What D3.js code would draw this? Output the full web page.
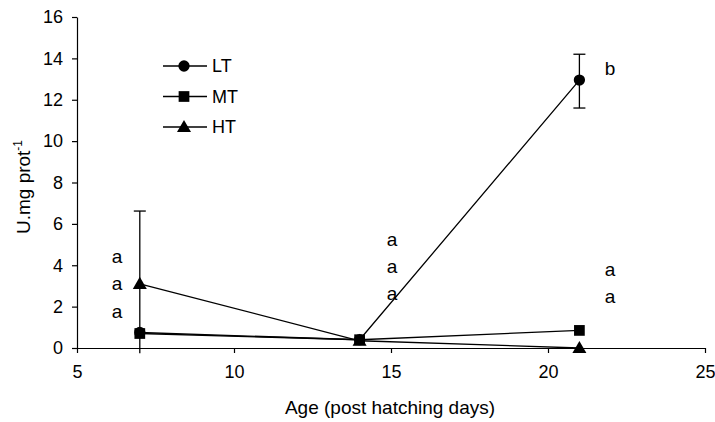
<!DOCTYPE html>
<html>
<head>
<meta charset="utf-8">
<script src="https://cdn.jsdelivr.net/npm/d3@7"></script>
<style>
  html, body { margin: 0; padding: 0; background: #fff; }
  svg text { font-family: "Liberation Sans", Arial, sans-serif; fill: #000; }
</style>
</head>
<body>
<svg id="chart" width="715" height="422"></svg>
<script>
// Enzyme activity (U.mg prot-1) by age for three temperature groups
const ages = [7, 14, 21];
const seriesNames = ["LT", "MT", "HT"];
const ltValues = [0.75, 0.4, 12.95];
const mtValues = [0.7, 0.4, 0.85];
const htValues = [3.1, 0.35, 0.0];
// error bars: [age, upper, lower]
const ltErrors = [[21, 14.2, 11.6]];
const htErrors = [[7, 6.62, -0.25]];
// significance letters per sampling age
const letters7 = ["a", "a", "a"];
const letters14 = ["a", "a", "a"];
const letters21 = ["b", "a", "a"];
const xTicks = [5, 10, 15, 20, 25];
const yTicks = [0, 2, 4, 6, 8, 10, 12, 14, 16];

const svg = d3.select("#chart");
const x = d3.scaleLinear().domain([5, 25]).range([77, 705]);
const y = d3.scaleLinear().domain([0, 16]).range([348, 17]);

// axes
const xAxis = d3.axisBottom(x).tickValues(xTicks).tickSize(5).tickPadding(12).tickSizeOuter(0);
const yAxis = d3.axisLeft(y).tickValues(yTicks).tickSize(5).tickPadding(9).tickSizeOuter(0);
const gx = svg.append("g").attr("transform", `translate(0,${y(0)})`).call(xAxis);
const gy = svg.append("g").attr("transform", `translate(${x(5)},0)`).call(yAxis);
[gx, gy].forEach(g => {
  g.attr("font-family", null).attr("font-size", null);
  g.selectAll("text").style("font-size", "18px");
  g.select(".domain").attr("stroke", "#000").attr("stroke-width", 1.2);
  g.selectAll(".tick line").attr("stroke", "#000").attr("stroke-width", 1.2);
});

// axis titles
svg.append("text").attr("x", 390).attr("y", 414).attr("text-anchor", "middle")
  .style("font-size", "19px").text("Age (post hatching days)");
const yl = svg.append("text").attr("transform", "translate(30,187) rotate(-90)")
  .attr("text-anchor", "middle").style("font-size", "19px");
yl.append("tspan").text("U.mg prot");
yl.append("tspan").attr("dy", "-8").style("font-size", "12px").text("-1");

const line = d3.line().x((d, i) => x(ages[i])).y(d => y(d));
const plot = svg.append("g");

// error bars
function errorBar(e, capBottom) {
  const [a, hi, lo] = e;
  plot.append("line").attr("x1", x(a)).attr("x2", x(a)).attr("y1", y(hi)).attr("y2", y(lo))
    .attr("stroke", "#000").attr("stroke-width", 1.3);
  plot.append("line").attr("x1", x(a) - 6).attr("x2", x(a) + 6).attr("y1", y(hi)).attr("y2", y(hi))
    .attr("stroke", "#000").attr("stroke-width", 1.3);
  if (capBottom) {
    plot.append("line").attr("x1", x(a) - 6).attr("x2", x(a) + 6).attr("y1", y(lo)).attr("y2", y(lo))
      .attr("stroke", "#000").attr("stroke-width", 1.3);
  }
}
ltErrors.forEach(e => errorBar(e, true));
htErrors.forEach(e => errorBar(e, false));

// lines
[htValues, mtValues, ltValues].forEach(vals => {
  plot.append("path").attr("d", line(vals)).attr("fill", "none")
    .attr("stroke", "#000").attr("stroke-width", 1.3);
});

const sym = {
  LT: d3.symbol().type(d3.symbolCircle).size(100),
  MT: d3.symbol().type(d3.symbolSquare).size(115),
  HT: d3.symbol().type(d3.symbolTriangle).size(85)
};
const seriesData = { LT: ltValues, MT: mtValues, HT: htValues };

// markers
["HT", "MT", "LT"].forEach(name => {
  plot.selectAll(null).data(seriesData[name]).enter().append("path")
    .attr("d", sym[name]())
    .attr("transform", (d, i) => `translate(${x(ages[i])},${y(d) + (name === "HT" ? 1 : 0)})`)
    .attr("fill", "#000");
});

// significance letters
const letterGroups = [
  { xPos: 117, ys: [4.42, 3.11, 1.76], labels: letters7 },
  { xPos: 392, ys: [5.26, 3.93, 2.64], labels: letters14 },
  { xPos: 610, ys: [13.5, 3.80, 2.49], labels: letters21 }
];
letterGroups.forEach(gr => {
  gr.labels.forEach((t, i) => {
    svg.append("text").attr("x", gr.xPos).attr("y", y(gr.ys[i])).attr("dy", "0.35em")
      .attr("text-anchor", "middle").style("font-size", "19px").text(t);
  });
});

// legend
const legend = svg.append("g");
seriesNames.forEach((name, i) => {
  const ly = 66 + i * 30.5;
  legend.append("line").attr("x1", 163).attr("x2", 207).attr("y1", ly).attr("y2", ly)
    .attr("stroke", "#000").attr("stroke-width", 1.3);
  legend.append("path").attr("d", sym[name]())
    .attr("transform", `translate(184,${ly + (name === "HT" ? 1 : 0)})`).attr("fill", "#000");
  legend.append("text").attr("x", 212).attr("y", ly).attr("dy", "0.36em")
    .style("font-size", "18px").text(name);
});
</script>
</body>
</html>
